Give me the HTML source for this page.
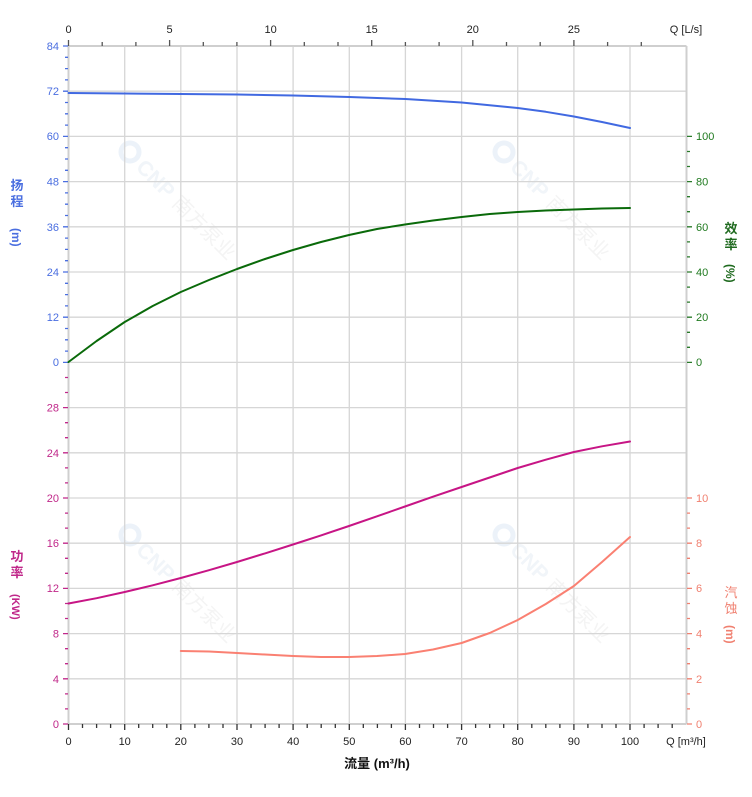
<!DOCTYPE html>
<html><head><meta charset="utf-8"><style>
html,body{margin:0;padding:0;background:#fff;}
svg{display:block;font-family:"Liberation Sans","Noto Sans CJK SC",sans-serif;}
</style></head><body>
<svg width="752" height="797" viewBox="0 0 752 797" xmlns="http://www.w3.org/2000/svg">
<!-- watermarks -->
<g opacity="0.4">
<g transform="translate(130,152) rotate(45)"><circle cx="0" cy="0" r="9" fill="none" stroke="#cfdff0" stroke-width="5"/><text x="15" y="8" font-size="21" font-weight="bold" fill="#dbe5ef">CNP</text><text x="66" y="8" font-size="20" fill="#e3e3e3">南方泵业</text></g>
<g transform="translate(504,152) rotate(45)"><circle cx="0" cy="0" r="9" fill="none" stroke="#cfdff0" stroke-width="5"/><text x="15" y="8" font-size="21" font-weight="bold" fill="#dbe5ef">CNP</text><text x="66" y="8" font-size="20" fill="#e3e3e3">南方泵业</text></g>
<g transform="translate(130,535) rotate(45)"><circle cx="0" cy="0" r="9" fill="none" stroke="#cfdff0" stroke-width="5"/><text x="15" y="8" font-size="21" font-weight="bold" fill="#dbe5ef">CNP</text><text x="66" y="8" font-size="20" fill="#e3e3e3">南方泵业</text></g>
<g transform="translate(504,535) rotate(45)"><circle cx="0" cy="0" r="9" fill="none" stroke="#cfdff0" stroke-width="5"/><text x="15" y="8" font-size="21" font-weight="bold" fill="#dbe5ef">CNP</text><text x="66" y="8" font-size="20" fill="#e3e3e3">南方泵业</text></g>
</g>
<!-- grid -->
<g stroke="#d6d6d6" stroke-width="1.3" fill="none">
<path d="M68.5 91.2H686.5M68.5 136.4H686.5M68.5 181.6H686.5M68.5 226.8H686.5M68.5 272H686.5M68.5 317.2H686.5M68.5 362.4H686.5M68.5 407.6H686.5M68.5 452.8H686.5M68.5 498H686.5M68.5 543.2H686.5M68.5 588.4H686.5M68.5 633.6H686.5M68.5 678.8H686.5"/>
<path d="M124.7 46V724M180.8 46V724M237 46V724M293.1 46V724M349.3 46V724M405.4 46V724M461.6 46V724M517.7 46V724M573.9 46V724M630 46V724"/>
<path d="M68.5 46H686.5M68.5 724H686.5M68.5 46V724M686.5 46V724" stroke="#cfcfcf" stroke-width="2"/>
</g>
<!-- left ticks -->
<path d="M63 46h5M63 91.2h5M63 136.4h5M63 181.6h5M63 226.8h5M63 272h5M63 317.2h5M63 362.4h5" stroke="#4a6ee0" stroke-width="1.3"/>
<path d="M65 57.3h3M65 68.6h3M65 79.9h3M65 102.5h3M65 113.8h3M65 125.1h3M65 147.7h3M65 159h3M65 170.3h3M65 192.9h3M65 204.2h3M65 215.5h3M65 238.1h3M65 249.4h3M65 260.7h3M65 283.3h3M65 294.6h3M65 305.9h3M65 328.5h3M65 339.8h3M65 351.1h3" stroke="#4a6ee0" stroke-width="1.3"/>
<path d="M63 407.6h5M63 452.8h5M63 498h5M63 543.2h5M63 588.4h5M63 633.6h5M63 678.8h5M63 724h5" stroke="#c0288a" stroke-width="1.3"/>
<path d="M65 377.5h3M65 392.5h3M65 422.7h3M65 437.7h3M65 467.9h3M65 482.9h3M65 513.1h3M65 528.1h3M65 558.3h3M65 573.3h3M65 603.5h3M65 618.5h3M65 648.7h3M65 663.7h3M65 693.9h3M65 708.9h3" stroke="#c0288a" stroke-width="1.3"/>
<!-- right ticks -->
<path d="M687 136.4h5M687 181.6h5M687 226.8h5M687 272h5M687 317.2h5M687 362.4h5" stroke="#2a7a2a" stroke-width="1.3"/>
<path d="M687 151.5h3M687 166.5h3M687 196.7h3M687 211.7h3M687 241.9h3M687 256.9h3M687 287.1h3M687 302.1h3M687 332.3h3M687 347.3h3" stroke="#2a7a2a" stroke-width="1.3"/>
<path d="M687 498h5M687 543.2h5M687 588.4h5M687 633.6h5M687 678.8h5M687 724h5" stroke="#f08070" stroke-width="1.3"/>
<path d="M687 513.1h3M687 528.1h3M687 558.3h3M687 573.3h3M687 603.5h3M687 618.5h3M687 648.7h3M687 663.7h3M687 693.9h3M687 708.9h3" stroke="#f08070" stroke-width="1.3"/>
<!-- bottom ticks -->
<path d="M68.5 724v6M124.7 724v6M180.8 724v6M237 724v6M293.1 724v6M349.3 724v6M405.4 724v6M461.6 724v6M517.7 724v6M573.9 724v6M630 724v6" stroke="#333" stroke-width="1.3"/>
<path d="M82.5 724v4M96.6 724v4M110.6 724v4M138.7 724v4M152.7 724v4M166.8 724v4M194.9 724v4M208.9 724v4M223 724v4M251 724v4M265.1 724v4M279.1 724v4M307.2 724v4M321.2 724v4M335.3 724v4M363.3 724v4M377.4 724v4M391.4 724v4M419.5 724v4M433.5 724v4M447.6 724v4M475.6 724v4M489.7 724v4M503.7 724v4M531.8 724v4M545.8 724v4M559.9 724v4M587.9 724v4M602 724v4M616 724v4M644.1 724v4M658.1 724v4M672.2 724v4" stroke="#333" stroke-width="1.3"/>
<!-- top ticks -->
<path d="M68.5 46v-6M169.6 46v-6M270.6 46v-6M371.7 46v-6M472.8 46v-6M573.9 46v-6" stroke="#555" stroke-width="1.3"/>
<path d="M102.2 46v-4M135.9 46v-4M203.3 46v-4M236.9 46v-4M304.3 46v-4M338 46v-4M405.4 46v-4M439.1 46v-4M506.5 46v-4M540.2 46v-4M607.6 46v-4M641.3 46v-4" stroke="#555" stroke-width="1.3"/>
<!-- left labels -->
<g font-size="11" fill="#4a6ee0" text-anchor="end">
<text x="59" y="50">84</text><text x="59" y="95">72</text><text x="59" y="140">60</text><text x="59" y="185.5">48</text><text x="59" y="231">36</text><text x="59" y="276">24</text><text x="59" y="321">12</text><text x="59" y="366">0</text>
</g>
<g font-size="11" fill="#c0288a" text-anchor="end">
<text x="59" y="411.5">28</text><text x="59" y="457">24</text><text x="59" y="502">20</text><text x="59" y="547">16</text><text x="59" y="592">12</text><text x="59" y="637.5">8</text><text x="59" y="683">4</text><text x="59" y="728">0</text>
</g>
<!-- right labels -->
<g font-size="11" fill="#1f7a1f">
<text x="696" y="140">100</text><text x="696" y="185.5">80</text><text x="696" y="231">60</text><text x="696" y="276">40</text><text x="696" y="321">20</text><text x="696" y="366">0</text>
</g>
<g font-size="11" fill="#f08070">
<text x="696" y="502">10</text><text x="696" y="547">8</text><text x="696" y="592">6</text><text x="696" y="637.5">4</text><text x="696" y="683">2</text><text x="696" y="728">0</text>
</g>
<!-- bottom labels -->
<g font-size="11" fill="#222" text-anchor="middle">
<text x="68.5" y="745">0</text><text x="124.7" y="745">10</text><text x="180.8" y="745">20</text><text x="237" y="745">30</text><text x="293.1" y="745">40</text><text x="349.3" y="745">50</text><text x="405.4" y="745">60</text><text x="461.6" y="745">70</text><text x="517.7" y="745">80</text><text x="573.9" y="745">90</text><text x="630" y="745">100</text>
<text x="686" y="745">Q [m³/h]</text>
</g>
<g font-size="11" fill="#222" text-anchor="middle">
<text x="68.5" y="33">0</text><text x="169.6" y="33">5</text><text x="270.6" y="33">10</text><text x="371.7" y="33">15</text><text x="472.8" y="33">20</text><text x="573.9" y="33">25</text><text x="686" y="33">Q [L/s]</text>
</g>
<text x="377" y="768" font-size="13" font-weight="bold" fill="#111" text-anchor="middle">流量 (m³/h)</text>
<!-- axis titles -->
<g font-size="13" font-weight="bold">
<text x="17" y="190" fill="#4a6ee0" text-anchor="middle">扬</text><text x="17" y="206" fill="#4a6ee0" text-anchor="middle">程</text>
<text transform="translate(12,228) rotate(90)" fill="#4a6ee0" font-size="12">(m)</text>
<text x="17" y="561" fill="#c0288a" text-anchor="middle">功</text><text x="17" y="577" fill="#c0288a" text-anchor="middle">率</text>
<text transform="translate(12,594) rotate(90)" fill="#c0288a" font-size="11">(KW)</text>
<text x="731" y="233" fill="#1f6a1f" text-anchor="middle">效</text><text x="731" y="249" fill="#1f6a1f" text-anchor="middle">率</text>
<text transform="translate(726,264) rotate(90)" fill="#1f6a1f" font-size="12">(%)</text>
<text x="731" y="597" fill="#f08070" text-anchor="middle" font-weight="normal">汽</text><text x="731" y="613" fill="#f08070" text-anchor="middle" font-weight="normal">蚀</text>
<text transform="translate(726,625) rotate(90)" fill="#f08070" font-size="12">(m)</text>
</g>
<!-- curves -->
<g fill="none" stroke-width="2" stroke-linejoin="round" stroke-linecap="round">
<polyline stroke="#4169e1" points="68.5,93 124.7,93.5 180.8,94 237,94.5 293.1,95.5 349.3,97 405.4,99 461.6,102.5 517.7,108 545.8,111.8 573.9,116.5 602,122 630,128"/>
<polyline stroke="#0a6a0a" points="68.5,362 96.6,341 124.7,322 152.7,306 180.8,292 209,280 237,269 265,259 293,250 321,242 349,235 377,229 405,224.5 433,220.5 461.6,217 489.7,214 517.7,212 545.8,210.5 573.9,209.5 602,208.5 630,208"/>
<polyline stroke="#c71585" points="68.5,603.5 96.6,598.2 124.7,592 152.7,585.3 180.8,578 209,570.2 237,562 265,553.4 293,544.5 321,535.4 349,526 377,516.3 405,506.5 433,496.7 461.6,487 489.7,477.5 517.7,468 545.8,459.7 573.9,452 602,446.3 630,441.5"/>
<polyline stroke="#fa8072" points="180.8,651 209,651.5 237,653 265,654.5 293,656 321,657 349,657 377,656 405,654 433,649.5 461.6,643 489.7,633 517.7,620 545.8,604 573.9,586 602,562 630,537"/>
</g>
</svg>
</body></html>
